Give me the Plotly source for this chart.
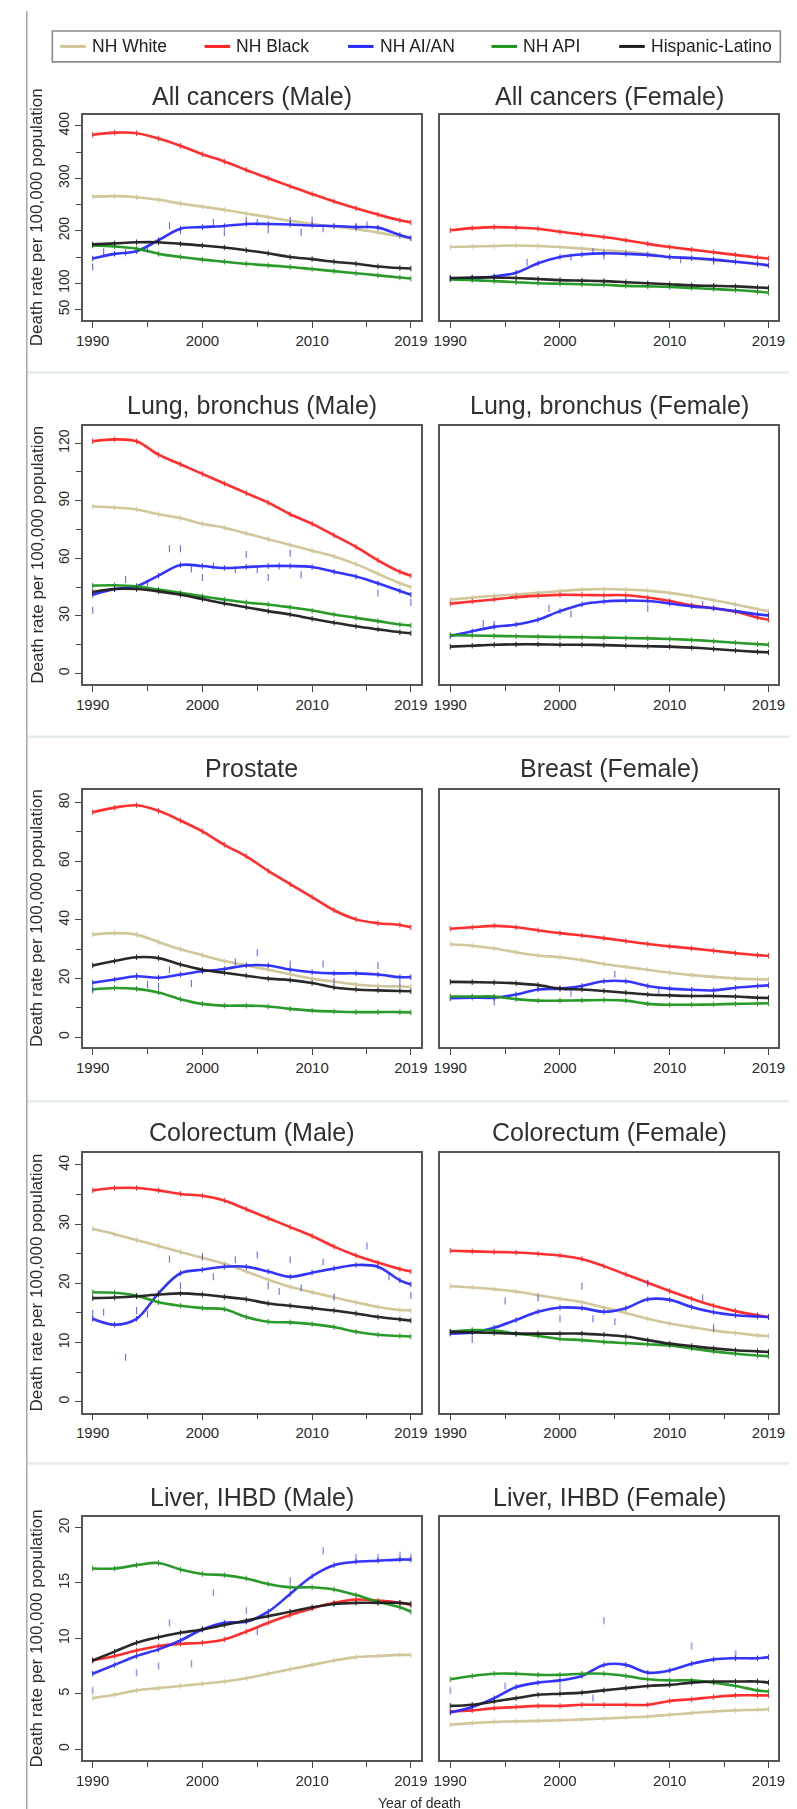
import plotly.graph_objects as go

# ---------------- data ----------------
YEARS = [1990, 1992, 1994, 1996, 1998, 2000, 2002, 2004, 2006, 2008, 2010, 2012, 2014, 2016, 2018, 2019]
SERIES = ["NH White", "NH Black", "NH AI/AN", "NH API", "Hispanic-Latino"]
X_TICKS = [1990, 2000, 2010, 2019]
X_MINOR = [1995, 2005, 2015]

# All cancers (Male)
ALL_M_WHITE = [265, 266, 264, 259, 252, 246, 240, 233, 226, 219, 213, 208, 203, 197, 189, 185]
ALL_M_BLACK = [383, 387, 386, 376, 362, 346, 332, 316, 300, 285, 270, 256, 243, 231, 220, 216]
ALL_M_AIAN = [147, 156, 161, 182, 204, 207, 209, 213, 213, 212, 210, 209, 207, 206, 192, 186]
ALL_M_API = [172, 170, 166, 156, 150, 145, 141, 137, 134, 131, 127, 123, 119, 115, 111, 109]
ALL_M_HISP = [174, 176, 178, 178, 175, 172, 168, 163, 157, 150, 146, 141, 137, 132, 129, 128]
ALL_M_AIAN_PTS_YEARS = [1990, 1991, 1993, 1995, 1997, 1998, 2001, 2002, 2004, 2005, 2006, 2008, 2009, 2010, 2011, 2014, 2015]
ALL_M_AIAN_PTS = [131, 160, 158, 165, 210, 200, 216, 196, 220, 216, 202, 220, 197, 220, 204, 208, 211]

# All cancers (Female)
ALL_F_WHITE = [169, 170, 171, 172, 171, 169, 166, 163, 160, 156, 150, 147, 144, 141, 136, 134]
ALL_F_BLACK = [201, 205, 207, 206, 204, 198, 193, 188, 182, 175, 169, 164, 159, 154, 149, 147]
ALL_F_AIAN = [109, 110, 113, 120, 138, 150, 155, 157, 156, 154, 150, 148, 145, 141, 137, 134]
ALL_F_API = [107, 106, 104, 102, 100, 99, 98, 97, 95, 94, 93, 91, 89, 87, 84, 82]
ALL_F_HISP = [110, 111, 111, 110, 108, 106, 105, 104, 102, 100, 98, 96, 95, 94, 92, 91]
ALL_F_AIAN_PTS_YEARS = [1997, 2001, 2003, 2004, 2011, 2014]
ALL_F_AIAN_PTS = [140, 150, 160, 152, 145, 142]

# Lung, bronchus (Male)
LUNG_M_WHITE = [87, 86.5, 85.5, 83, 81, 78, 76, 73, 70, 67, 64, 61, 57, 52, 47, 45]
LUNG_M_BLACK = [121, 122, 121, 114, 109, 104, 99, 94, 89, 83, 78, 72, 66, 59, 53, 51]
LUNG_M_AIAN = [41, 44, 45.5, 51, 56.5, 56, 55, 55.5, 56, 56, 55.5, 53, 50.5, 47, 43, 41]
LUNG_M_API = [45.8, 46, 45.4, 43.7, 42, 40.2, 38.5, 37, 36, 34.5, 32.8, 30.7, 29, 27.3, 25.5, 25]
LUNG_M_HISP = [42.5, 44, 44, 42.8, 41, 38.8, 36.5, 34.5, 32.5, 30.7, 28.5, 26.5, 24.6, 23, 21.5, 21]
LUNG_M_AIAN_PTS_YEARS = [1990, 1993, 1995, 1997, 1998, 1999, 2000, 2001, 2003, 2004, 2005, 2006, 2007, 2008, 2009, 2016, 2019]
LUNG_M_AIAN_PTS = [33, 49, 47, 65, 65, 54.5, 50, 56, 54, 62, 54, 50, 56, 62.6, 51.5, 42, 37]

# Lung, bronchus (Female)
LUNG_F_WHITE = [38.5, 39.5, 40.5, 41.2, 42, 43, 43.7, 44, 43.7, 43.2, 42, 40.3, 38.2, 36, 33.5, 32.4]
LUNG_F_BLACK = [36.4, 37.5, 38.6, 39.8, 40.5, 41, 40.9, 40.8, 40.8, 39.6, 37.8, 35.5, 34, 32.2, 29.2, 28]
LUNG_F_AIAN = [19.5, 22, 24.3, 25.5, 28, 32.5, 36, 37.5, 38, 37.8, 36.5, 35, 34, 32.5, 30.8, 30.3]
LUNG_F_API = [20, 19.8, 19.6, 19.4, 19.2, 19, 18.9, 18.7, 18.5, 18.3, 18, 17.5, 16.8, 16, 15.3, 15]
LUNG_F_HISP = [14, 14.5, 15, 15.2, 15.2, 15, 15, 14.8, 14.5, 14.2, 14, 13.5, 12.8, 12, 11.3, 11]
LUNG_F_AIAN_PTS_YEARS = [1993, 1994, 1999, 2001, 2008, 2013]
LUNG_F_AIAN_PTS = [26, 25.5, 34, 31, 34, 36]

# Prostate
PROS_WHITE = [35, 35.5, 35, 32.5, 30, 28, 26, 24.5, 23, 21.5, 20, 19, 18, 17.5, 17.3, 17.2]
PROS_BLACK = [76.7, 78.3, 79.1, 77.2, 73.9, 70.2, 65.6, 61.7, 56.7, 52.2, 47.8, 43.3, 40.2, 38.9, 38.3, 37.5]
PROS_AIAN = [18.6, 19.7, 20.8, 20.3, 21.4, 22.5, 23.3, 24.5, 24.5, 23.1, 22.2, 21.8, 21.8, 21.4, 20.5, 20.5]
PROS_API = [16.3, 16.8, 16.5, 15.3, 13, 11.4, 10.8, 10.8, 10.5, 9.7, 9.1, 8.8, 8.6, 8.6, 8.6, 8.5]
PROS_HISP = [24.5, 26, 27.3, 27, 24.8, 23, 22, 21, 20, 19.5, 18.5, 17, 16.3, 16, 15.8, 15.7]
PROS_AIAN_PTS_YEARS = [1990, 1994, 1995, 1996, 1997, 1999, 2003, 2005, 2008, 2011, 2012, 2016, 2018]
PROS_AIAN_PTS = [16.1, 20.8, 18, 17.5, 23, 18.3, 25.7, 28.8, 25, 25, 19, 24.5, 18.3]

# Breast (Female)
BREAST_WHITE = [31.7, 31.2, 30.3, 29, 27.9, 27.3, 26.3, 25, 24, 23, 22, 21.2, 20.6, 20.1, 19.8, 19.7]
BREAST_BLACK = [37, 37.5, 38, 37.5, 36.5, 35.5, 34.7, 33.8, 32.8, 31.8, 31, 30.3, 29.5, 28.7, 28, 27.8]
BREAST_AIAN = [13.3, 13.5, 13.5, 14.6, 16.3, 16.6, 17.5, 19.1, 19.1, 17.5, 16.6, 16.2, 16, 16.9, 17.5, 17.7]
BREAST_API = [13.9, 13.9, 13.9, 13, 12.5, 12.5, 12.6, 12.7, 12.5, 11.4, 11.1, 11.1, 11.2, 11.4, 11.5, 11.6]
BREAST_HISP = [18.9, 18.8, 18.7, 18.4, 17.8, 16.6, 16.3, 15.8, 15.2, 14.6, 14.3, 14.1, 14.1, 13.9, 13.5, 13.4]
BREAST_AIAN_PTS_YEARS = [1994, 2001, 2005, 2009]
BREAST_AIAN_PTS = [12, 15, 21.5, 16]

# Colorectum (Male)
CRC_M_WHITE = [29.2, 28.3, 27.3, 26.3, 25.3, 24.3, 23.3, 22, 20.6, 19.4, 18.5, 17.6, 16.8, 16, 15.5, 15.4]
CRC_M_BLACK = [35.7, 36.1, 36.1, 35.7, 35.1, 34.8, 34, 32.5, 31, 29.5, 28, 26.2, 24.7, 23.5, 22.4, 22]
CRC_M_AIAN = [14, 13, 14, 18.3, 21.7, 22.3, 22.8, 22.8, 22, 21.1, 21.8, 22.5, 23.1, 22.8, 20.5, 19.8]
CRC_M_API = [18.5, 18.4, 17.9, 16.8, 16.2, 15.8, 15.6, 14.3, 13.5, 13.4, 13.1, 12.6, 11.8, 11.3, 11.1, 11]
CRC_M_HISP = [17.5, 17.6, 17.8, 18.1, 18.3, 18.1, 17.7, 17.3, 16.6, 16.2, 15.8, 15.4, 14.9, 14.3, 13.9, 13.7]
CRC_M_AIAN_PTS_YEARS = [1990, 1991, 1993, 1994, 1995, 1997, 1998, 2000, 2001, 2003, 2005, 2006, 2007, 2008, 2009, 2011, 2012, 2015, 2017, 2019]
CRC_M_AIAN_PTS = [14.9, 15.1, 7.5, 15.4, 14.8, 24.1, 19.6, 24.5, 21.1, 24, 24.8, 19.6, 18.6, 24, 19.2, 23.6, 17.7, 26.3, 21.1, 18]

# Colorectum (Female)
CRC_F_WHITE = [19.5, 19.3, 19, 18.6, 18, 17.4, 16.8, 15.9, 15, 14, 13.2, 12.6, 12, 11.6, 11.2, 11.1]
CRC_F_BLACK = [25.5, 25.4, 25.3, 25.2, 25, 24.7, 24.1, 22.9, 21.5, 20.1, 18.7, 17.4, 16.2, 15.3, 14.6, 14.3]
CRC_F_AIAN = [11.5, 11.7, 12.5, 13.8, 15.2, 15.9, 15.8, 15.2, 15.8, 17.3, 17.2, 16, 15.1, 14.6, 14.4, 14.3]
CRC_F_API = [11.8, 12.1, 12, 11.5, 11.1, 10.6, 10.4, 10.1, 9.9, 9.7, 9.5, 9, 8.5, 8.1, 7.8, 7.7]
CRC_F_HISP = [11.8, 11.7, 11.6, 11.5, 11.5, 11.5, 11.5, 11.3, 11, 10.4, 9.8, 9.4, 9, 8.7, 8.5, 8.4]
CRC_F_AIAN_PTS_YEARS = [1992, 1995, 1998, 2000, 2002, 2003, 2005, 2008, 2013, 2014]
CRC_F_AIAN_PTS = [10.5, 17, 17.5, 14, 19.5, 14, 13.5, 20, 17.5, 12.5]

# Liver, IHBD (Male)
LIVER_M_WHITE = [4.6, 4.9, 5.3, 5.5, 5.7, 5.9, 6.1, 6.4, 6.8, 7.2, 7.6, 8.0, 8.3, 8.4, 8.5, 8.5]
LIVER_M_BLACK = [8.0, 8.4, 8.9, 9.3, 9.5, 9.6, 9.9, 10.6, 11.4, 12.1, 12.7, 13.2, 13.5, 13.4, 13.2, 13.0]
LIVER_M_AIAN = [6.8, 7.6, 8.4, 9.0, 9.8, 10.8, 11.4, 11.5, 12.4, 14.0, 15.6, 16.6, 16.9, 17.0, 17.1, 17.1]
LIVER_M_API = [16.3, 16.3, 16.6, 16.8, 16.2, 15.8, 15.7, 15.4, 14.9, 14.6, 14.6, 14.4, 13.9, 13.3, 12.8, 12.4]
LIVER_M_HISP = [8.0, 8.8, 9.6, 10.1, 10.5, 10.8, 11.2, 11.6, 12.0, 12.4, 12.8, 13.1, 13.2, 13.2, 13.2, 13.1]
LIVER_M_AIAN_PTS_YEARS = [1990, 1994, 1996, 1997, 1999, 2001, 2004, 2005, 2008, 2011, 2014, 2016, 2018, 2019]
LIVER_M_AIAN_PTS = [5.3, 6.9, 7.5, 11.4, 7.7, 14.1, 12.5, 10.6, 15.2, 17.9, 17.3, 17.3, 17.5, 17.3]

# Liver, IHBD (Female)
LIVER_F_WHITE = [2.2, 2.35, 2.45, 2.5, 2.55, 2.6, 2.68, 2.76, 2.85, 2.95, 3.1, 3.25, 3.4, 3.5, 3.55, 3.6]
LIVER_F_BLACK = [3.4, 3.5, 3.7, 3.8, 3.9, 3.9, 4.0, 4.0, 4.0, 4.0, 4.35, 4.5, 4.7, 4.85, 4.85, 4.85]
LIVER_F_AIAN = [3.3, 3.8, 4.6, 5.6, 6.0, 6.2, 6.6, 7.6, 7.6, 6.9, 7.1, 7.7, 8.1, 8.2, 8.2, 8.3]
LIVER_F_API = [6.3, 6.6, 6.8, 6.8, 6.7, 6.7, 6.8, 6.8, 6.6, 6.3, 6.2, 6.2, 6.0, 5.7, 5.3, 5.2]
LIVER_F_HISP = [3.9, 4.0, 4.3, 4.6, 4.9, 5.0, 5.1, 5.3, 5.5, 5.7, 5.8, 6.0, 6.1, 6.1, 6.1, 6.0]
LIVER_F_AIAN_PTS_YEARS = [1990, 1995, 2000, 2003, 2004, 2012, 2016]
LIVER_F_AIAN_PTS = [5.3, 5.7, 5.6, 4.6, 11.6, 9.3, 8.6]

# y axes per row
ROW_RANGES = [[29, 421], [-5.4, 128.8], [-3.4, 84.4], [-1.86, 42.0], [-0.99, 20.9]]
ROW_TICKS = [[50, 100, 200, 300, 400], [0, 30, 60, 90, 120], [0, 20, 40, 60, 80], [0, 10, 20, 30, 40], [0, 5, 10, 15, 20]]
ROW_MINOR = [[150, 250, 350], [15, 45, 75, 105], [10, 30, 50, 70], [5, 15, 25, 35], []]

PANELS = [
    ("All cancers (Male)", ALL_M_WHITE, ALL_M_BLACK, ALL_M_AIAN, ALL_M_API, ALL_M_HISP, ALL_M_AIAN_PTS_YEARS, ALL_M_AIAN_PTS),
    ("All cancers (Female)", ALL_F_WHITE, ALL_F_BLACK, ALL_F_AIAN, ALL_F_API, ALL_F_HISP, ALL_F_AIAN_PTS_YEARS, ALL_F_AIAN_PTS),
    ("Lung, bronchus (Male)", LUNG_M_WHITE, LUNG_M_BLACK, LUNG_M_AIAN, LUNG_M_API, LUNG_M_HISP, LUNG_M_AIAN_PTS_YEARS, LUNG_M_AIAN_PTS),
    ("Lung, bronchus (Female)", LUNG_F_WHITE, LUNG_F_BLACK, LUNG_F_AIAN, LUNG_F_API, LUNG_F_HISP, LUNG_F_AIAN_PTS_YEARS, LUNG_F_AIAN_PTS),
    ("Prostate", PROS_WHITE, PROS_BLACK, PROS_AIAN, PROS_API, PROS_HISP, PROS_AIAN_PTS_YEARS, PROS_AIAN_PTS),
    ("Breast (Female)", BREAST_WHITE, BREAST_BLACK, BREAST_AIAN, BREAST_API, BREAST_HISP, BREAST_AIAN_PTS_YEARS, BREAST_AIAN_PTS),
    ("Colorectum (Male)", CRC_M_WHITE, CRC_M_BLACK, CRC_M_AIAN, CRC_M_API, CRC_M_HISP, CRC_M_AIAN_PTS_YEARS, CRC_M_AIAN_PTS),
    ("Colorectum (Female)", CRC_F_WHITE, CRC_F_BLACK, CRC_F_AIAN, CRC_F_API, CRC_F_HISP, CRC_F_AIAN_PTS_YEARS, CRC_F_AIAN_PTS),
    ("Liver, IHBD (Male)", LIVER_M_WHITE, LIVER_M_BLACK, LIVER_M_AIAN, LIVER_M_API, LIVER_M_HISP, LIVER_M_AIAN_PTS_YEARS, LIVER_M_AIAN_PTS),
    ("Liver, IHBD (Female)", LIVER_F_WHITE, LIVER_F_BLACK, LIVER_F_AIAN, LIVER_F_API, LIVER_F_HISP, LIVER_F_AIAN_PTS_YEARS, LIVER_F_AIAN_PTS),
]

# ---------------- layout geometry (pixels) ----------------
W, H = 797, 1809
COLORS = ["#CFC596", "#FF2424", "#2A2AFF", "#1F961F", "#1E1E1E"]
FONT = "Liberation Sans, Arial, Helvetica, sans-serif"
TXT = "#2b2b2b"
COL_X = [(69, 413), (433, 777)]
ROW_Y = [(104, 310), (416, 674), (780, 1038), (1144, 1404), (1509, 1752)]
TITLE_Y = [85, 395, 758, 1123, 1488]
SEP_Y = [362, 727, 1092, 1455]
X_RANGE = [1989.1, 2019.9]


def fx(x):
    return x / W


def fy(y):
    return 1 - y / H


fig = go.Figure()
layout = dict(
    width=W, height=H, margin=dict(l=0, r=0, t=0, b=0),
    paper_bgcolor="white", plot_bgcolor="white", showlegend=False,
    font=dict(family=FONT, color=TXT),
)
annotations = []
shapes = []

for k, panel in enumerate(PANELS):
    title, *series, pyears, pvals = panel
    row, col = divmod(k, 2)
    idx = k + 1
    xa = "x" if idx == 1 else f"x{idx}"
    ya = "y" if idx == 1 else f"y{idx}"
    for name, vals, color in zip(SERIES, series, COLORS):
        fig.add_trace(go.Scatter(
            x=YEARS, y=vals, name=name, xaxis=xa, yaxis=ya,
            mode="lines+markers",
            line=dict(color=color, width=2.6, shape="spline", smoothing=1.0),
            marker=dict(symbol="line-ns", size=4, color=color, line=dict(color=color, width=1.0)),
            opacity=0.95,
        ))
    fig.add_trace(go.Scatter(
        x=pyears, y=pvals, xaxis=xa, yaxis=ya, mode="markers", name="NH AI/AN",
        marker=dict(symbol="line-ns", size=5, color=COLORS[2], line=dict(color=COLORS[2], width=1.1)),
        opacity=0.7,
    ))
    x0, x1 = COL_X[col]
    y0, y1 = ROW_Y[row]
    xkey = "xaxis" if idx == 1 else f"xaxis{idx}"
    ykey = "yaxis" if idx == 1 else f"yaxis{idx}"
    layout[xkey] = dict(
        domain=[fx(x0), fx(x1)], anchor=ya, range=X_RANGE,
        tickmode="array", tickvals=X_TICKS, ticktext=[str(v) for v in X_TICKS],
        ticks="outside", ticklen=6, tickwidth=1.3, tickcolor="#444",
        minor=dict(tickvals=X_MINOR, ticks="outside", ticklen=5, tickwidth=1.2, tickcolor="#444"),
        showgrid=False, zeroline=False, showline=True, mirror=True,
        linecolor="#555", linewidth=1.6,
        tickfont=dict(size=15, color=TXT, family=FONT),
    )
    ydict = dict(
        domain=[fy(y1), fy(y0)], anchor=xa, range=ROW_RANGES[row],
        showgrid=False, zeroline=False, showline=True, mirror=True,
        linecolor="#555", linewidth=1.6,
    )
    if col == 0:
        ydict.update(
            tickmode="array", tickvals=ROW_TICKS[row], ticktext=[str(v) for v in ROW_TICKS[row]],
            ticks="outside", ticklen=6, tickwidth=1.3, tickcolor="#444", tickangle=-90,
            tickfont=dict(size=14, color=TXT, family=FONT),
            minor=dict(tickvals=ROW_MINOR[row], ticks="outside", ticklen=5, tickwidth=1.2, tickcolor="#444"),
        )
    else:
        ydict.update(showticklabels=False, ticks="")
    layout[ykey] = ydict

    annotations.append(dict(
        text=title, x=fx((x0 + x1) / 2), y=fy(TITLE_Y[row]), xref="paper", yref="paper",
        showarrow=False, xanchor="center", yanchor="middle",
        font=dict(size=25, color="#303030", family=FONT),
    ))

# y-axis titles per row
for (y0, y1) in ROW_Y:
    annotations.append(dict(
        text="Death rate per 100,000 population", x=fx(22), y=fy((y0 + y1) / 2),
        xref="paper", yref="paper", showarrow=False, textangle=-90,
        xanchor="center", yanchor="middle", font=dict(size=17, color=TXT, family=FONT),
    ))

# x-axis title
annotations.append(dict(
    text="Year of death", x=fx(412), y=fy(1795), xref="paper", yref="paper",
    showarrow=False, xanchor="center", yanchor="middle",
    font=dict(size=14, color=TXT, family=FONT),
))

# row separators and left frame line
for sy in SEP_Y:
    shapes.append(dict(type="line", xref="paper", yref="paper", x0=fx(12), x1=1, y0=fy(sy), y1=fy(sy),
                       line=dict(color="#E4ECEE", width=2.5)))
shapes.append(dict(type="line", xref="paper", yref="paper", x0=fx(12), x1=fx(12), y0=0, y1=1,
                   line=dict(color="#A8A8A8", width=1.5)))

# legend box
shapes.append(dict(type="rect", xref="paper", yref="paper", x0=fx(38), x1=fx(779), y0=fy(51), y1=fy(20),
                   line=dict(color="#8a8a8a", width=1.6), fillcolor="white"))
LEG_X = [46, 193, 339, 485, 615]
for name, color, lx in zip(SERIES, COLORS, LEG_X):
    shapes.append(dict(type="line", xref="paper", yref="paper", x0=fx(lx), x1=fx(lx + 26),
                       y0=fy(35.5), y1=fy(35.5), line=dict(color=color, width=3)))
    annotations.append(dict(
        text=name, x=fx(lx + 30), y=fy(35.5), xref="paper", yref="paper", showarrow=False,
        xanchor="left", yanchor="middle", font=dict(size=17.5, color="#222", family=FONT),
    ))

layout["annotations"] = annotations
layout["shapes"] = shapes
fig.update_layout(**layout)
fig.write_html("out.html")
